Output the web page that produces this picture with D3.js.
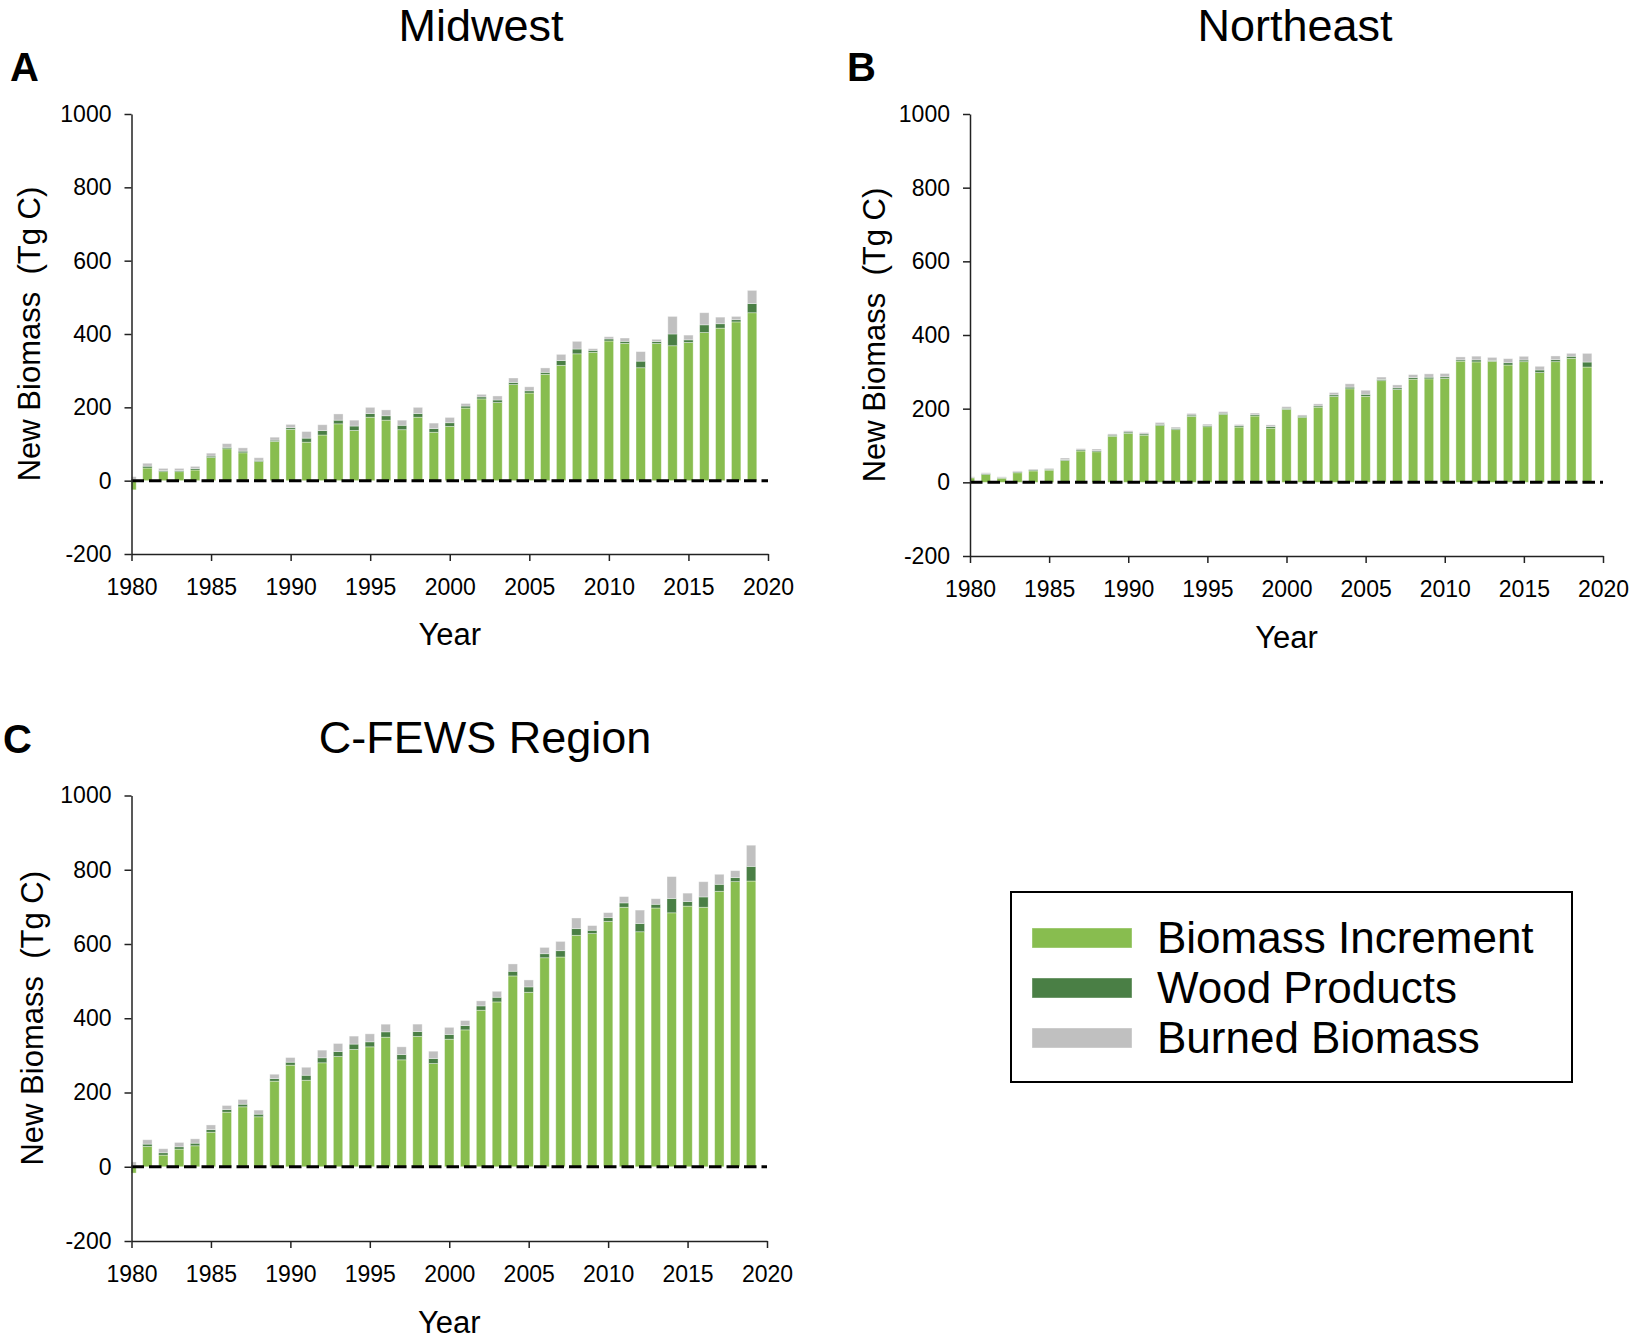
<!DOCTYPE html>
<html>
<head>
<meta charset="utf-8">
<script src="https://cdn.jsdelivr.net/npm/d3@7"></script>
<style>
  body { margin: 0; background: #fff; }
  text { font-family: "Liberation Sans", Arial, sans-serif; fill: #000; }
</style>
</head>
<body>
<div id="chart"></div>
<script>
// years 1980..2019
const years = d3.range(1980, 2020);
const seriesKeys = ["inc", "wood", "burned"];
const seriesNames = ["Biomass Increment", "Wood Products", "Burned Biomass"];
const colors = ["#88bd4f", "#4a7f45", "#c0c0c0"];
const yTicks = [-200, 0, 200, 400, 600, 800, 1000];
const xTicks = [1980, 1985, 1990, 1995, 2000, 2005, 2010, 2015, 2020];

// Midwest (Tg C)
const midwestInc = [-25, 34.5, 24.5, 24.5, 29, 63, 87, 76, 52, 107,
  140, 105, 124.5, 155, 137, 173, 165, 139, 173, 132,
  148, 198, 223, 213, 262, 239, 290, 314.5, 346, 350,
  381, 374.5, 308, 374, 368, 377, 404, 416, 433, 458];
const midwestWood = [2, 5, 3, 3, 4, 4, 4, 4.5, 3.5, 3.5,
  4.5, 11, 12, 10, 12, 10, 12, 12, 10, 10,
  10, 5.5, 5.5, 7, 6, 6, 5.5, 13, 13, 5.5,
  5.5, 5.5, 18, 5.5, 32, 7, 21, 12, 6, 25];
const midwestBurned = [9, 8, 6, 6, 6, 8, 10, 9, 7, 8,
  9, 18, 16, 17, 16, 17, 16, 14, 17, 15,
  14.5, 7, 7, 11, 12, 11, 12, 17, 21, 4.5,
  6, 9, 26, 6, 48, 13, 33, 18, 9, 36];

// Northeast (Tg C)
const northeastInc = [12, 21, 11, 26, 31, 33, 59, 85, 83, 125,
  133, 128, 154, 143, 179, 151, 184, 150, 180, 147,
  198, 176, 204, 233, 254, 233.5, 276, 252, 280, 281,
  282, 329, 327, 328.5, 318.5, 327.6, 298, 327.6, 336.7, 313];
const northeastWood = [1, 2.5, 2, 2.5, 2.5, 2.5, 2.5, 3, 3, 3,
  3.5, 3.5, 3.5, 3.5, 3.5, 3.5, 3.5, 3.5, 3.5, 4.5,
  3, 3.5, 3.5, 4.5, 4.5, 5.5, 3.5, 4.5, 4.5, 4.5,
  4.5, 3.5, 5.5, 2.7, 6.3, 4.5, 7, 5.5, 5.5, 13.6];
const northeastBurned = [2, 2.5, 2, 2.5, 2.5, 2.5, 4.5, 3.5, 4.5, 3.5,
  3.5, 3.5, 5, 3.5, 4.5, 3.5, 4.5, 3.5, 4.5, 4.5,
  4.5, 3.5, 5.5, 6.3, 9, 11, 6.3, 8, 8, 9,
  9, 8, 10, 8, 11, 10, 10, 10, 8, 23.5];

// C-FEWS Region (Tg C)
const cfewsInc = [-17, 54.7, 31.4, 47.5, 56.5, 93, 147, 161.5, 134.6, 230.5,
  273.6, 233, 280, 297, 316, 323, 349, 288, 351, 278,
  343.5, 368.7, 421.6, 444, 514, 470, 563, 565, 623.4, 628,
  661, 699, 633, 697, 684, 702, 699, 742, 768, 769.6];
const cfewsWood = [3, 6.3, 6.3, 6.3, 7, 7, 7, 7, 7, 7,
  8, 13.5, 13.5, 13.5, 14.4, 13.5, 14.4, 14.4, 13.5, 13.5,
  13, 11.7, 11.7, 12.6, 12.6, 14.4, 10.8, 17, 18, 9,
  10, 11.7, 22.4, 10, 38.6, 12.6, 27.8, 18.8, 10.8, 39.5];
const cfewsBurned = [10, 11.7, 10.8, 11.7, 11.7, 12.6, 11, 12.6, 11, 11.7,
  12.6, 21.5, 20.6, 21.5, 21.5, 21.5, 20.6, 20.6, 19.7, 19.7,
  19, 13.5, 13.5, 16, 19.7, 18.8, 17, 25, 28.7, 12.6,
  13.5, 17, 36, 15, 59, 22.4, 41, 27, 18.8, 57];

const width = 1635, height = 1339;
const svg = d3.select("#chart").append("svg")
  .attr("width", width)
  .attr("height", height);

const panels = [
  { id: "a", letter: "A", title: "Midwest", inc: midwestInc, wood: midwestWood, burned: midwestBurned,
    x0: 131.5, x1: 768, yTop: 114, yBot: 554, titleX: 481, titleY: 41, letterX: 10, letterY: 81,
    labelX: 40, yearY: 645 },
  { id: "b", letter: "B", title: "Northeast", inc: northeastInc, wood: northeastWood, burned: northeastBurned,
    x0: 970, x1: 1603, yTop: 114, yBot: 556, titleX: 1295, titleY: 41, letterX: 847, letterY: 81,
    labelX: 885, yearY: 648 },
  { id: "c", letter: "C", title: "C-FEWS Region", inc: cfewsInc, wood: cfewsWood, burned: cfewsBurned,
    x0: 131.5, x1: 767, yTop: 795.5, yBot: 1241, titleX: 485, titleY: 753, letterX: 3, letterY: 753,
    labelX: 43, yearY: 1333 }
];

panels.forEach(p => {
  const g = svg.append("g");

  const x = d3.scaleLinear().domain([1980, 2020]).range([p.x0, p.x1]);
  const y = d3.scaleLinear().domain([-200, 1000]).range([p.yBot, p.yTop]);
  const step = x(1981) - x(1980);
  const barW = step * 0.59;

  const table = years.map((yr, i) => ({ year: yr, inc: p.inc[i], wood: p.wood[i], burned: p.burned[i] }));
  const stacked = d3.stack().keys(seriesKeys).offset(d3.stackOffsetDiverging)(table);

  // clip so the 1980 bar is cut at the axis
  g.append("clipPath").attr("id", "clip-" + p.id)
    .append("rect")
    .attr("x", p.x0).attr("y", p.yTop - 40)
    .attr("width", p.x1 - p.x0 + 10).attr("height", p.yBot - p.yTop + 40);

  const bars = g.append("g").attr("clip-path", "url(#clip-" + p.id + ")");
  bars.selectAll("g.series")
    .data(stacked)
    .enter()
    .append("g")
      .attr("class", "series")
      .attr("fill", (d, i) => colors[i])
    .selectAll("rect")
    .data(d => d)
    .enter()
    .append("rect")
      .attr("x", d => x(d.data.year) - barW / 2)
      .attr("width", barW)
      .attr("y", d => y(Math.max(d[0], d[1])))
      .attr("height", d => Math.abs(y(d[0]) - y(d[1])))
      .attr("stroke", "#ffffff")
      .attr("stroke-opacity", 0.45)
      .attr("stroke-width", 0.8);

  // dashed zero line
  g.append("line")
    .attr("x1", p.x0).attr("x2", x(2020))
    .attr("y1", y(0)).attr("y2", y(0))
    .attr("stroke", "#000")
    .attr("stroke-width", 3)
    .attr("stroke-dasharray", "12.5,5");

  // axes
  const yAxis = g.append("g")
    .attr("transform", "translate(" + p.x0 + ",0)")
    .call(d3.axisLeft(y).tickValues(yTicks).tickFormat(d => String(d))
      .tickSize(7).tickPadding(13).tickSizeOuter(0));
  const xAxis = g.append("g")
    .attr("transform", "translate(0," + p.yBot + ")")
    .call(d3.axisBottom(x).tickValues(xTicks).tickFormat(d => String(d))
      .tickSize(7).tickPadding(18).tickSizeOuter(0));

  [yAxis, xAxis].forEach(ax => {
    ax.select(".domain").attr("stroke", "#222").attr("stroke-width", 1.5);
    ax.selectAll(".tick line").attr("stroke", "#222").attr("stroke-width", 1.5);
    ax.selectAll(".tick text").style("font-size", "23px").attr("fill", "#000");
  });

  // titles and labels
  g.append("text")
    .attr("x", p.titleX).attr("y", p.titleY)
    .attr("text-anchor", "middle")
    .style("font-size", "45px")
    .text(p.title);

  g.append("text")
    .attr("x", p.letterX).attr("y", p.letterY)
    .style("font-size", "40px")
    .style("font-weight", "bold")
    .text(p.letter);

  g.append("text")
    .attr("transform", "translate(" + p.labelX + "," + ((p.yTop + p.yBot) / 2) + ") rotate(-90)")
    .attr("text-anchor", "middle")
    .style("font-size", "31px")
    .style("white-space", "pre")
    .attr("xml:space", "preserve")
    .text("New Biomass  (Tg C)");

  g.append("text")
    .attr("x", (p.x0 + p.x1) / 2).attr("y", p.yearY)
    .attr("text-anchor", "middle")
    .style("font-size", "31px")
    .text("Year");
});

// legend
const legend = svg.append("g");
legend.append("rect")
  .attr("x", 1011).attr("y", 892)
  .attr("width", 561).attr("height", 190)
  .attr("fill", "none")
  .attr("stroke", "#000")
  .attr("stroke-width", 2);

const items = legend.selectAll("g.item")
  .data(seriesNames)
  .enter()
  .append("g")
    .attr("class", "item")
    .attr("transform", (d, i) => "translate(0," + (i * 50) + ")");

items.append("rect")
  .attr("x", 1032).attr("y", 928)
  .attr("width", 100).attr("height", 20)
  .attr("fill", (d, i) => colors[i])
  .attr("stroke", "#ffffff")
  .attr("stroke-opacity", 0.4);

items.append("text")
  .attr("x", 1157).attr("y", 953)
  .style("font-size", "44px")
  .text(d => d);
</script>
</body>
</html>
